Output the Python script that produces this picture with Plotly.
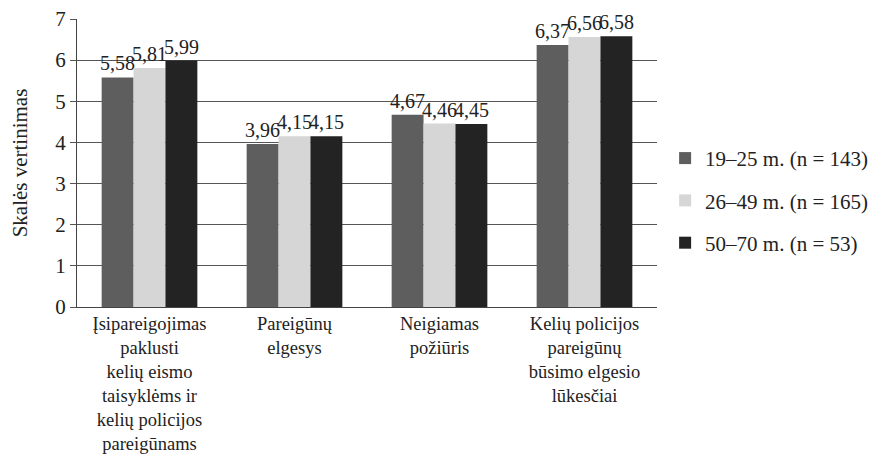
import plotly.graph_objects as go

categories = [
    "Įsipareigojimas<br>paklusti<br>kelių eismo<br>taisyklėms ir<br>kelių policijos<br>pareigūnams",
    "Pareigūnų<br>elgesys",
    "Neigiamas<br>požiūris",
    "Kelių policijos<br>pareigūnų<br>būsimo elgesio<br>lūkesčiai",
]
series_names = ["19–25 m. (n = 143)", "26–49 m. (n = 165)", "50–70 m. (n = 53)"]
values_19_25 = [5.58, 3.96, 4.67, 6.37]
values_26_49 = [5.81, 4.15, 4.46, 6.56]
values_50_70 = [5.99, 4.15, 4.45, 6.58]
colors = ["#5e5e5e", "#d6d6d6", "#232323"]
y_ticks = [0, 1, 2, 3, 4, 5, 6, 7]

FONT = "Liberation Serif"

fig = go.Figure()
for i, (name, vals) in enumerate(zip(series_names, [values_19_25, values_26_49, values_50_70])):
    fig.add_trace(go.Bar(
        x=categories, y=vals, name=name, legendgroup=f"g{i}",
        marker=dict(color=colors[i], line=dict(width=0)),
        text=[f"{v:.2f}".replace(".", ",") for v in vals],
        textposition="outside", constraintext="none", cliponaxis=False,
        textfont=dict(family=FONT, size=20, color="#222"),
    ))

fig.update_layout(
    width=876, height=452,
    margin=dict(l=69, r=227, t=11, b=153),
    paper_bgcolor="white", plot_bgcolor="white",
    font=dict(family=FONT, color="#222"),
    barmode="group", bargap=0.34, bargroupgap=0,
    legend=dict(x=1.014, xanchor="left", y=0.37, yanchor="middle",
                font=dict(family=FONT, size=21, color="#222"),
                tracegroupgap=12, itemsizing="constant"),
    showlegend=True,
)
fig.update_yaxes(
    range=[0, 7], tickvals=y_ticks, showgrid=True, gridcolor="#555", gridwidth=1,
    showline=True, linecolor="#444", linewidth=1,
    ticks="outside", ticklen=6, tickcolor="#555",
    tickfont=dict(family=FONT, size=21, color="#222"),
    ticklabeloverflow="allow",
    title=dict(text="Skalės vertinimas", font=dict(family=FONT, size=21, color="#222"), standoff=22),
    zeroline=False, automargin=False,
)
fig.update_xaxes(
    showline=True, linecolor="#444", linewidth=1,
    tickfont=dict(family=FONT, size=18.5, color="#222"),
    ticklabeloverflow="allow",
    ticks="", automargin=False,
)
fig.write_html("out.html")
